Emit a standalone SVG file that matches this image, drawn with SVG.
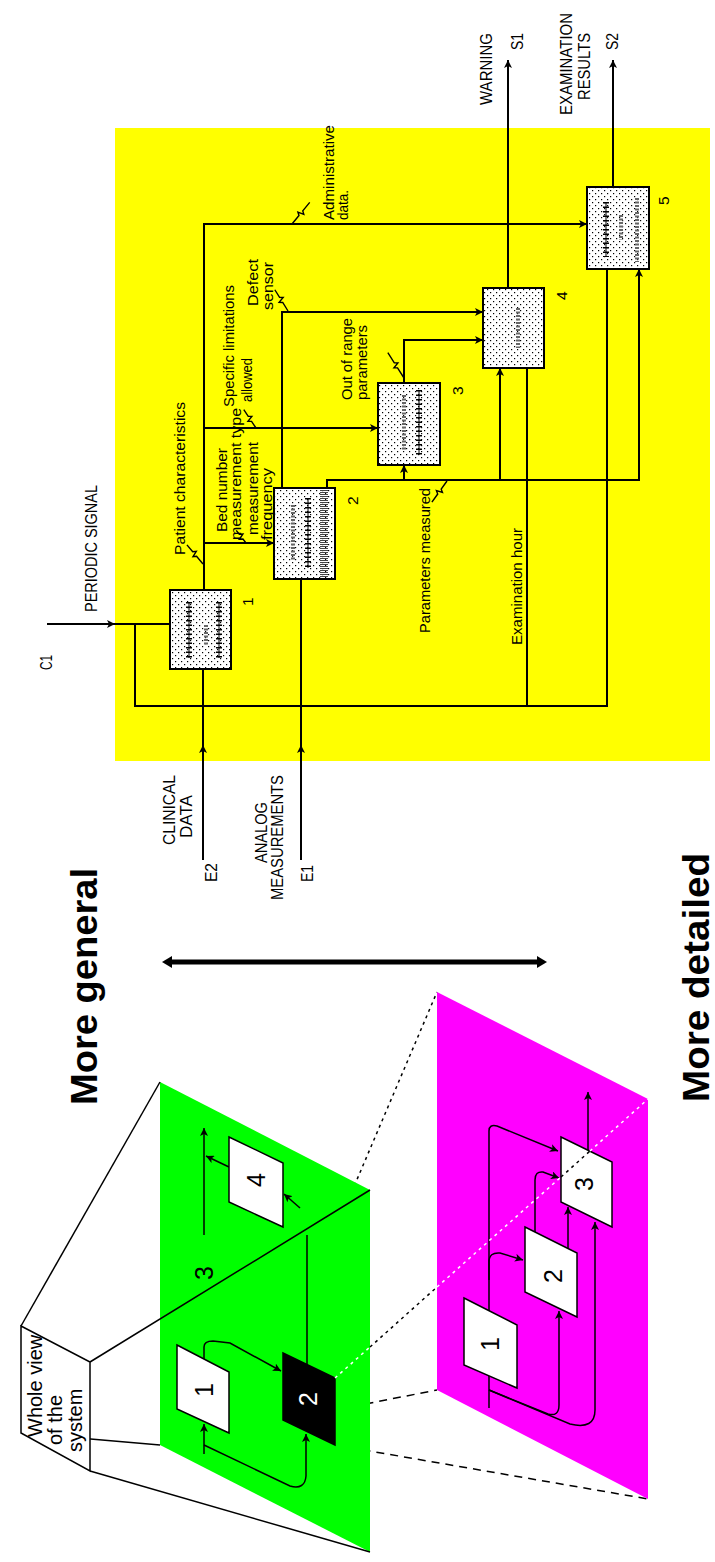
<svg xmlns="http://www.w3.org/2000/svg" width="715" height="1562" viewBox="0 0 715 1562">
  <style>
    .ln{stroke:#000;stroke-width:2;fill:none}
    .thin{stroke:#000;stroke-width:1.5;fill:none}
    .arr{marker-end:url(#ah)}
    .sq{stroke:#000;stroke-width:1.4;fill:none}
    .box{fill:url(#stip);stroke:#000;stroke-width:2}
    .pbox{fill:#fff;stroke:#000;stroke-width:1.5}
    .mc{stroke:#000;stroke-width:6;stroke-dasharray:1.5 3;fill:none}
    .mct{stroke:#000;stroke-width:1;fill:none}
    .mw{stroke:#666;stroke-width:4;stroke-dasharray:2 1.5;fill:none}
    .mh{stroke:#444;stroke-width:8;stroke-dasharray:1 1;fill:none}
    .t{font-family:"Liberation Sans",Arial,sans-serif;fill:#000}
    .lbl{font-size:15.5px}
    .cap{font-size:17px}
    .dig{font-size:25px}
    .big{font-size:37px;font-weight:bold}
    .dot{stroke:#000;stroke-width:1.5;stroke-dasharray:3 4;fill:none}
    .dash{stroke:#000;stroke-width:1.5;stroke-dasharray:8 6;fill:none}
    .wdot{stroke:#fff;stroke-width:1.5;stroke-dasharray:3 4;fill:none}
  </style>
  <defs>
    <pattern id="stip" width="6" height="6" patternUnits="userSpaceOnUse">
      <rect width="6" height="6" fill="#fff"/>
      <rect x="1" y="1" width="1.2" height="1.2" fill="#000"/>
      <rect x="4" y="4" width="1.2" height="1.2" fill="#000"/>
    </pattern>
    <marker id="ah" viewBox="0 0 8 8" markerWidth="8" markerHeight="8" refX="8" refY="4" orient="auto" markerUnits="userSpaceOnUse">
      <path d="M0,0 L8,4 L0,8 L2,4 z" fill="#000"/>
    </marker>
    <marker id="bh" viewBox="0 -6 10 12" markerWidth="10" markerHeight="12" refX="0" refY="0" orient="auto-start-reverse" markerUnits="userSpaceOnUse">
      <path d="M0,-6 L10,0 L0,6 z" fill="#000"/>
    </marker>
    <clipPath id="wvclip">
      <polygon points="21,1326 90,1362 90,1471 21,1433"/>
    </clipPath>
  </defs>

  <rect width="715" height="1562" fill="#fff"/>

  <!-- ===== IDEF0 decomposition sheet ===== -->
  <rect id="sheet" x="115" y="128" width="595" height="633" fill="#ffff00"/>

  <g id="connectors">
    <!-- C1 periodic signal -->
    <path class="ln arr" d="M47,624 H115"/>
    <path class="ln" d="M115,624 H170"/>
    <path class="ln" d="M135,624 V706 H607 V269"/>
    <path class="ln" d="M527,706 V368"/>
    <!-- E2 clinical data -->
    <path class="ln arr" d="M203,860 V745"/>
    <path class="ln" d="M203,745 V669"/>
    <!-- E1 analog measurements -->
    <path class="ln arr" d="M301,860 V745"/>
    <path class="ln" d="M301,745 V579"/>
    <!-- box 1 output -->
    <path class="ln arr" d="M204,590 V224 H587"/>
    <path class="ln arr" d="M204,543 H274"/>
    <path class="ln arr" d="M204,428 H378"/>
    <!-- box 2 outputs -->
    <path class="ln arr" d="M327,488 V480 H639 V269"/>
    <path class="ln arr" d="M404,480 V465"/>
    <path class="ln arr" d="M500,480 V368"/>
    <path class="ln arr" d="M282,488 V312 H483"/>
    <!-- box 3 output -->
    <path class="ln arr" d="M404,383 V340 H483"/>
    <!-- S1, S2 -->
    <path class="ln arr" d="M508,288 V60"/>
    <path class="ln arr" d="M613,187 V60"/>
    <!-- label squiggles -->
    <path class="sq" d="M0,0 H11 L13,-3 L15,3 L17,0 H28" transform="translate(292,224) rotate(-50.7)"/>
    <path class="sq" d="M0,0 H10 L12,-3 L14,3 L16,0 H25" transform="translate(288,311) rotate(-121.8)"/>
    <path class="sq" d="M0,0 H8 L10,-3 L12,3 L14,0 H22" transform="translate(256,428) rotate(-123.7)"/>
    <path class="sq" d="M0,0 H12 L14,-3 L16,3 L18,0 H30" transform="translate(404,378) rotate(-122.6)"/>
    <path class="sq" d="M0,0 H10 L12,-3 L14,3 L16,0 H25" transform="translate(203,564) rotate(-130)"/>
    <path class="sq" d="M0,0 H5 L7,-3 L9,3 L11,0 H16" transform="translate(246,543) rotate(-127.6)"/>
    <path class="sq" d="M0,0 H10 L12,-3 L14,3 L16,0 H26" transform="translate(447,481) rotate(125.5)"/>
  </g>

  <g id="a1">
    <rect class="box" x="170" y="590" width="61" height="79"/>
    <line class="mct" x1="189" y1="602" x2="189" y2="658"/><line class="mc" x1="189" y1="602" x2="189" y2="658"/>
    <line class="mw" x1="206" y1="625" x2="206" y2="645"/>
    <line class="mct" x1="219" y1="602" x2="219" y2="658"/><line class="mc" x1="219" y1="602" x2="219" y2="658"/>
    <text class="t lbl" transform="translate(253,606) rotate(-90)">1</text>
  </g>
  <g id="a2">
    <rect class="box" x="274" y="488" width="61" height="91"/>
    <line class="mw" x1="293" y1="505" x2="293" y2="560"/>
    <line class="mct" x1="308" y1="498" x2="308" y2="568"/><line class="mc" x1="308" y1="498" x2="308" y2="568"/>
    <line class="mh" x1="324" y1="490" x2="324" y2="577"/>
    <text class="t lbl" transform="translate(358,505) rotate(-90)">2</text>
  </g>
  <g id="a3">
    <rect class="box" x="378" y="383" width="62" height="82"/>
    <line class="mw" x1="404" y1="395" x2="404" y2="450"/>
    <line class="mct" x1="419" y1="390" x2="419" y2="455"/><line class="mc" x1="419" y1="390" x2="419" y2="455"/>
    <text class="t lbl" transform="translate(463,395) rotate(-90)">3</text>
  </g>
  <g id="a4">
    <rect class="box" x="483" y="288" width="61" height="80"/>
    <line class="mw" x1="518" y1="308" x2="518" y2="348"/>
    <text class="t lbl" transform="translate(567,300) rotate(-90)">4</text>
  </g>
  <g id="a5">
    <rect class="box" x="587" y="187" width="62" height="82"/>
    <line class="mct" x1="606" y1="202" x2="606" y2="257"/><line class="mc" x1="606" y1="202" x2="606" y2="257"/>
    <line class="mw" x1="621" y1="215" x2="621" y2="240"/>
    <line class="mw" x1="637" y1="198" x2="637" y2="262"/>
    <text class="t lbl" transform="translate(669,205) rotate(-90)">5</text>
  </g>

  <g id="labels">
    <text class="t lbl" transform="translate(334,220) rotate(-90)" textLength="95" lengthAdjust="spacingAndGlyphs">Administrative</text>
    <text class="t lbl" transform="translate(348,220) rotate(-90)" textLength="30" lengthAdjust="spacingAndGlyphs">data.</text>
    <text class="t lbl" transform="translate(258,306) rotate(-90)" textLength="47" lengthAdjust="spacingAndGlyphs">Defect</text>
    <text class="t lbl" transform="translate(273,310) rotate(-90)" textLength="48" lengthAdjust="spacingAndGlyphs">sensor</text>
    <text class="t lbl" transform="translate(234,407) rotate(-90)" textLength="122" lengthAdjust="spacingAndGlyphs">Specific limitations</text>
    <text class="t lbl" transform="translate(252,402) rotate(-90)" textLength="44" lengthAdjust="spacingAndGlyphs">allowed</text>
    <text class="t lbl" transform="translate(352,400) rotate(-90)" textLength="82" lengthAdjust="spacingAndGlyphs">Out of range</text>
    <text class="t lbl" transform="translate(367,400) rotate(-90)" textLength="75" lengthAdjust="spacingAndGlyphs">parameters</text>
    <text class="t lbl" transform="translate(185,555) rotate(-90)" textLength="153" lengthAdjust="spacingAndGlyphs">Patient characteristics</text>
    <text class="t lbl" transform="translate(227,532) rotate(-90)" textLength="84" lengthAdjust="spacingAndGlyphs">Bed number</text>
    <text class="t lbl" transform="translate(241,540) rotate(-90)" textLength="132" lengthAdjust="spacingAndGlyphs">measurement type</text>
    <text class="t lbl" transform="translate(258,535) rotate(-90)" textLength="93" lengthAdjust="spacingAndGlyphs">measurement</text>
    <text class="t lbl" transform="translate(272,540) rotate(-90)" textLength="72" lengthAdjust="spacingAndGlyphs">frequency</text>
    <text class="t lbl" transform="translate(430,633) rotate(-90)" textLength="145" lengthAdjust="spacingAndGlyphs">Parameters measured</text>
    <text class="t lbl" transform="translate(522,645) rotate(-90)" textLength="117" lengthAdjust="spacingAndGlyphs">Examination hour</text>

    <text class="t cap" transform="translate(97,612) rotate(-90)" textLength="127" lengthAdjust="spacingAndGlyphs">PERIODIC SIGNAL</text>
    <text class="t cap" transform="translate(52,670) rotate(-90)" textLength="15" lengthAdjust="spacingAndGlyphs">C1</text>
    <text class="t cap" transform="translate(175,845) rotate(-90)" textLength="70" lengthAdjust="spacingAndGlyphs">CLINICAL</text>
    <text class="t cap" transform="translate(192,838) rotate(-90)" textLength="43" lengthAdjust="spacingAndGlyphs">DATA</text>
    <text class="t cap" transform="translate(267,863) rotate(-90)" textLength="61" lengthAdjust="spacingAndGlyphs">ANALOG</text>
    <text class="t cap" transform="translate(283,900) rotate(-90)" textLength="125" lengthAdjust="spacingAndGlyphs">MEASUREMENTS</text>
    <text class="t cap" transform="translate(217,882) rotate(-90)" textLength="19" lengthAdjust="spacingAndGlyphs">E2</text>
    <text class="t cap" transform="translate(313,882) rotate(-90)" textLength="17" lengthAdjust="spacingAndGlyphs">E1</text>
    <text class="t cap" transform="translate(492,105) rotate(-90)" textLength="72" lengthAdjust="spacingAndGlyphs">WARNING</text>
    <text class="t cap" transform="translate(523,50) rotate(-90)" textLength="17" lengthAdjust="spacingAndGlyphs">S1</text>
    <text class="t cap" transform="translate(572,115) rotate(-90)" textLength="102" lengthAdjust="spacingAndGlyphs">EXAMINATION</text>
    <text class="t cap" transform="translate(590,100) rotate(-90)" textLength="67" lengthAdjust="spacingAndGlyphs">RESULTS</text>
    <text class="t cap" transform="translate(618,50) rotate(-90)" textLength="17" lengthAdjust="spacingAndGlyphs">S2</text>
  </g>

  <!-- ===== level scale ===== -->
  <g id="scale">
    <line x1="172" y1="962" x2="537" y2="962" stroke="#000" stroke-width="5" marker-start="url(#bh)" marker-end="url(#bh)"/>
    <text class="t big" transform="translate(97,1105) rotate(-90)" textLength="237" lengthAdjust="spacingAndGlyphs">More general</text>
    <text class="t big" transform="translate(709,1102) rotate(-90)" textLength="249" lengthAdjust="spacingAndGlyphs">More detailed</text>
  </g>

  <!-- ===== hidden projection lines (behind planes) ===== -->
  <g id="projection-hidden">
    <line class="dot" x1="283" y1="1353" x2="437" y2="992"/>
    <line class="dash" x1="283" y1="1420" x2="437" y2="1390"/>
    <line class="dash" x1="335" y1="1445" x2="648" y2="1499"/>
    <line class="thin" x1="21" y1="1433" x2="160" y2="1445"/>
  </g>

  <!-- ===== general level plane ===== -->
  <g id="plane-general">
    <polygon points="160,1082 370,1190 370,1552 160,1445" fill="#00ff00"/>
    <line class="thin" x1="21" y1="1326" x2="160" y2="1082"/>
    <line class="thin" x1="90" y1="1362" x2="370" y2="1190"/>
    <line class="thin" x1="90" y1="1471" x2="370" y2="1552"/>
    <path class="thin arr" d="M204,1235 V1128"/>
    <path class="thin arr" d="M229,1167 L206,1156"/>
    <path class="thin arr" d="M300,1208 L284,1194"/>
    <path class="thin" d="M307,1365 V1235"/>
    <path class="thin arr" d="M204,1360 V1347 Q204,1341 213,1341 L230,1343 L281,1371"/>
    <path class="thin arr" d="M204,1454 V1424"/>
    <path class="thin arr" d="M204,1445 L290,1486 Q305,1490 306,1476 V1434"/>
    <text class="t dig" transform="translate(213,1280) rotate(-90)">3</text>
  </g>
  <g id="g1">
    <polygon class="pbox" points="177,1345 229,1372 229,1433 177,1409"/>
    <text class="t dig" transform="translate(213,1397) rotate(-90)">1</text>
  </g>
  <g id="g2">
    <polygon points="283,1353 335,1378 335,1445 283,1420" fill="#000" stroke="#000" stroke-width="1.5"/>
    <text class="t dig" transform="translate(317,1406) rotate(-90)" style="fill:#fff">2</text>
  </g>
  <g id="g4">
    <polygon class="pbox" points="229,1137 283,1163 283,1227 229,1202"/>
    <text class="t dig" transform="translate(265,1187) rotate(-90)">4</text>
  </g>

  <!-- ===== whole system view ===== -->
  <g id="whole-view">
    <polygon points="21,1326 90,1362 90,1471 21,1433" fill="#fff" stroke="#000" stroke-width="1.5"/>
    <g clip-path="url(#wvclip)">
      <text class="t" font-size="20" transform="translate(42,1437) rotate(-90)">Whole view</text>
      <text class="t" font-size="20" transform="translate(62,1445) rotate(-90)">of the</text>
      <text class="t" font-size="20" transform="translate(82,1452) rotate(-90)">system</text>
    </g>
  </g>

  <!-- ===== detailed level plane ===== -->
  <g id="plane-detailed">
    <polygon points="437,992 648,1099 648,1499 437,1390" fill="#ff00ff"/>
    <path class="thin arr" d="M588,1150 V1092"/>
    <path class="thin arr" d="M489,1408 V1131 Q489,1124 497,1126 L558,1151"/>
    <path class="thin arr" d="M489,1280 V1262 Q489,1252 500,1253 L523,1260"/>
    <path class="thin arr" d="M535,1232 V1180 Q535,1171 543,1172 L559,1178"/>
    <path class="thin arr" d="M568,1248 V1207"/>
    <path class="thin arr" d="M489,1390 L548,1414 Q559,1417 559,1405 V1311"/>
    <path class="thin arr" d="M489,1390 L570,1424 Q595,1430 595,1410 V1222"/>
  </g>
  <g id="d1">
    <polygon class="pbox" points="464,1298 517,1325 517,1388 464,1365"/>
    <text class="t dig" transform="translate(499,1351) rotate(-90)">1</text>
  </g>
  <g id="d2">
    <polygon class="pbox" points="525,1227 577,1253 577,1317 525,1292"/>
    <text class="t dig" transform="translate(562,1283) rotate(-90)">2</text>
  </g>
  <g id="d3">
    <polygon class="pbox" points="561,1137 612,1162 612,1227 561,1202"/>
    <text class="t dig" transform="translate(593,1191) rotate(-90)">3</text>
  </g>

  <!-- ===== visible projection line ===== -->
  <g id="projection-visible">
    <line class="wdot" x1="335" y1="1378" x2="370" y2="1347"/>
    <line class="dot" x1="370" y1="1347" x2="437" y2="1287"/>
    <line class="wdot" x1="437" y1="1287" x2="561" y2="1177"/>
    <line class="dot" x1="561" y1="1177" x2="590" y2="1151"/>
    <line class="wdot" x1="590" y1="1151" x2="648" y2="1099"/>
  </g>
</svg>
